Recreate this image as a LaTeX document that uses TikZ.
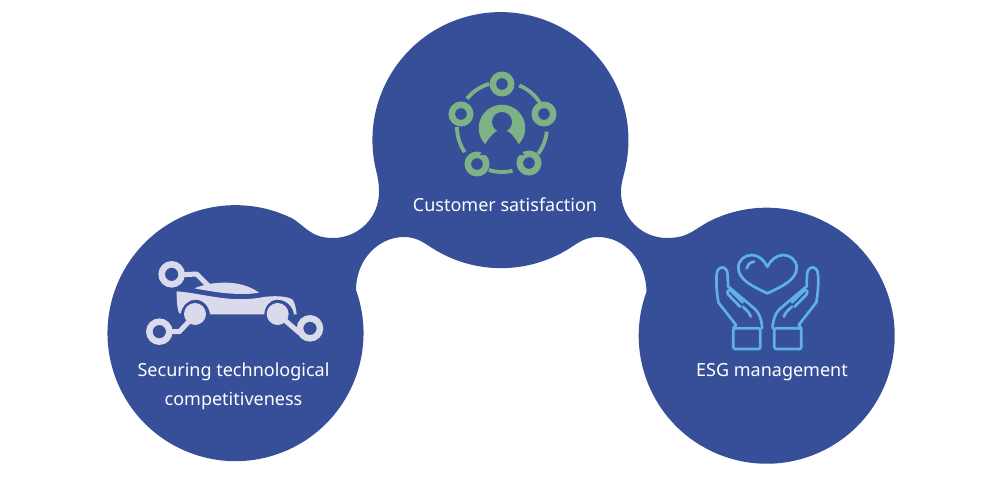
\documentclass[tikz,border=0pt]{standalone}
\usepackage{fontspec}
\setmainfont{Noto Sans}
\definecolor{blob}{RGB}{55,78,153}
\definecolor{grn}{RGB}{125,178,135}
\definecolor{lav}{RGB}{217,218,236}
\definecolor{sky}{RGB}{95,178,224}
\tikzset{
  lbl/.style={text=white,font=\fontsize{18}{29}\selectfont,inner sep=0pt,align=center},
  zoomed/.style={x=0.33333pt,y=-0.33333pt},
  grnring/.style={draw=grn,line width=6.5pt},
  grnarc/.style={draw=grn,line width=3.8pt},
  lavring/.style={draw=lav,line width=6.5pt},
  lavline/.style={draw=lav,line width=5pt,line join=round},
  skyline/.style={draw=sky,line width=2.7pt,line join=round,line cap=round}
}
\begin{document}
\begin{tikzpicture}[x=1pt,y=-1pt]
\useasboundingbox (0,0) rectangle (1000,500);
% main shape
\fill[blob] (376,170) arc[start angle=166.5,end angle=373.5,radius=128]
 .. controls (623,178) and (621,184) .. (621,192)
 .. controls (621,218) and (642,238) .. (667,238)
 .. controls (690,238) and (695,228) .. (712,220)
 arc[start angle=244.7,end angle=560.1,radius=128]
 .. controls (646,260) and (624,237) .. (598,237)
 .. controls (585,237) and (578,243) .. (570,248)
 arc[start angle=57.4,end angle=122.6,radius=128]
 .. controls (424,243) and (417,237) .. (404,237)
 .. controls (378,237) and (356,260) .. (356,290)
 arc[start angle=-19.7,end angle=296.6,radius=128]
 .. controls (307,228) and (312,238) .. (333,238)
 .. controls (358,238) and (379,218) .. (379,192)
 .. controls (379,184) and (378,178) .. (376,170) -- cycle;
% customer icon
\foreach \a/\b in {-67.5/-32.7,-106.7/-141,6/36.6,76.5/107,180/146}{
  \draw[grnarc] (502,127) ++(\a:45) arc[start angle=\a,end angle=\b,radius=45];
}
\foreach \x/\y in {502/84,544/114,529/163,477/164,461/114}{
  \fill[blob] (\x,\y) circle[radius=6];
  \draw[grnring] (\x,\y) circle[radius=9.2];
}
\fill[grn] (502,128) circle[radius=23.3];
\fill[blob] (502,122) circle[radius=10];
\fill[blob] (484,147) .. controls (489,137) and (494,132) .. (499,130) -- (505,130)
  .. controls (510,132) and (515,137) .. (520,147) -- (524,155) -- (480,155) -- cycle;
% car icon
\begin{scope}[xshift=130pt,yshift=-250pt,zoomed]
\draw[lavline] (160,74) -- (200,72) -- (240,112);
\draw[lavline] (120,245) -- (148,245) -- (195,195);
\draw[lavline] (443,192) -- (510,250);
\draw[lavring] (125,73) circle[radius=30];
\draw[lavring] (88,245) circle[radius=30];
\draw[lavring] (540,235) circle[radius=30];
\fill[lav] (195,192) circle[radius=33];
\fill[lav] (443,192) circle[radius=33];
\fill[lav] (193,115) .. controls (240,95) and (330,85) .. (387,128)
  .. controls (340,136) and (280,132) .. (193,115) -- cycle;
\fill[lav] (140,124) .. controls (220,130) and (300,160) .. (395,142)
  .. controls (430,136) and (470,138) .. (487,148)
  .. controls (495,158) and (498,175) .. (500,193) -- (492,193)
  .. controls (488,165) and (465,149) .. (440,149)
  .. controls (420,149) and (403,170) .. (403,193) -- (240,193)
  .. controls (238,170) and (220,149) .. (197,149)
  .. controls (175,149) and (158,165) .. (152,190) -- (147,190)
  .. controls (140,170) and (140,145) .. (140,124) -- cycle;
\end{scope}
% hands icon
\begin{scope}[xshift=700pt,yshift=-245pt,zoomed]
\draw[skyline] (202,145) .. controls (160,125) and (115,105) .. (115,68)
  .. controls (115,45) and (135,30) .. (155,30)
  .. controls (175,30) and (192,45) .. (202,65)
  .. controls (212,45) and (230,30) .. (250,30)
  .. controls (270,30) and (290,45) .. (290,68)
  .. controls (290,105) and (245,125) .. (202,145) -- cycle;
\draw[skyline] (140,70) .. controls (141,60) and (148,53) .. (162,50);
\foreach \s/\o in {1/0,-1/404}{
\begin{scope}[x=\s*0.33333pt,xshift=\o*0.33333pt]
\draw[skyline,rounded corners=2pt] (100,250) rectangle (181,312);
\draw[skyline] (100,250) -- (108,240) -- (55,172)
  .. controls (50,140) and (48,115) .. (50,88)
  .. controls (52,60) and (82,60) .. (83,90)
  -- (84,124) -- (165,192)
  .. controls (178,205) and (186,225) .. (186,250);
\draw[skyline] (84,148) -- (120,185);
\draw[skyline] (90,135) -- (128,172);
\draw[skyline] (84,148) .. controls (80,140) and (84,132) .. (90,135);
\draw[skyline] (128,185) .. controls (140,195) and (150,205) .. (152,215);
\end{scope}}
\end{scope}
% labels
\node[lbl] (cust) at (505,205) {Customer satisfaction};
\node[lbl] (tech) at (233.5,386.5) {Securing technological\\competitiveness};
\node[lbl] (esg) at (772,372) {ESG management};
\end{tikzpicture}
\end{document}
